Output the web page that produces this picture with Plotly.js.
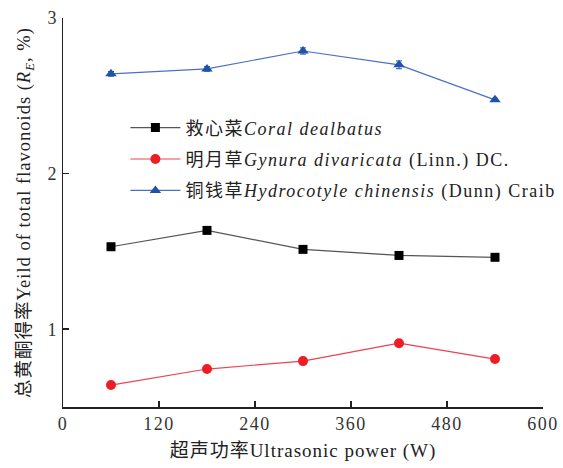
<!DOCTYPE html>
<html>
<head>
<meta charset="utf-8">
<script src="https://cdn.plot.ly/plotly-3.0.1.min.js"></script>
<style>
html,body{margin:0;padding:0;background:#fff;}
#chart{width:563px;height:468px;}
.legendtext{letter-spacing:1.5px;}
.xtick text,.ytick text{letter-spacing:1.5px;}
.g-xtitle text,.g-ytitle text{letter-spacing:1px;}
</style>
</head>
<body>
<div id="chart"></div>
<script>
const power = [60, 180, 300, 420, 540];
const jiuxincai = [1.53, 1.635, 1.513, 1.474, 1.462];
const mingyuecao = [0.641, 0.744, 0.795, 0.910, 0.808];
const tongqiancao = [2.641, 2.673, 2.788, 2.699, 2.474];
const errJ = [0.01, 0.01, 0.01, 0.01, 0.01];
const errM = [0.01, 0.02, 0.01, 0.01, 0.01];
const errT = [0.015, 0.015, 0.02, 0.025, 0.01];
const names = [
  '救心菜<i>Coral dealbatus</i>',
  '明月草<i>Gynura divaricata</i> (Linn.) DC.',
  '铜钱草<i>Hydrocotyle chinensis</i> (Dunn) Craib'
];
const xTicks = [0, 120, 240, 360, 480, 600];
const yTicks = [1, 2, 3];

const font = '"Liberation Serif", "Noto Sans CJK SC", serif';

const traces = [
  {x: power, y: jiuxincai, name: names[0], legendgroup: 'a', mode: 'lines+markers',
   line: {color: '#555555', width: 1.2}, marker: {symbol: 'square', size: 9, color: '#000000'},
   error_y: {type: 'data', array: errJ, color: '#333', thickness: 1, width: 3}},
  {x: power, y: mingyuecao, name: names[1], legendgroup: 'b', mode: 'lines+markers',
   line: {color: '#f04050', width: 1.2}, marker: {symbol: 'circle', size: 10, color: '#ee1c25'},
   error_y: {type: 'data', array: errM, color: '#ee1c25', thickness: 1, width: 3}},
  {x: power, y: tongqiancao, name: names[2], legendgroup: 'c', mode: 'lines+markers',
   line: {color: '#4a6fc7', width: 1.2}, marker: {symbol: 'triangle-up', size: 10, color: '#1f52a8'},
   error_y: {type: 'data', array: errT, color: '#1f52a8', thickness: 1, width: 3}}
];

const layout = {
  width: 563, height: 468,
  margin: {l: 63, r: 20, t: 18, b: 61, autoexpand: false},
  paper_bgcolor: '#fff', plot_bgcolor: '#fff',
  font: {family: font, size: 15, color: '#222'},
  showlegend: true,
  legend: {x: 0.13, y: 0.765, xanchor: 'left', yanchor: 'top', bgcolor: 'rgba(0,0,0,0)',
           traceorder: 'grouped', tracegroupgap: 5,
           font: {family: font, size: 18, color: '#222'}, itemwidth: 50},
  xaxis: {range: [0, 600], tickvals: xTicks, ticktext: xTicks.map(String),
          showgrid: false, zeroline: false, showline: true, linecolor: '#222', linewidth: 1.5,
          ticks: 'inside', ticklen: 6, tickcolor: '#222', tickwidth: 1.5,
          tickfont: {family: font, size: 18, color: '#333'},
          title: {text: '超声功率Ultrasonic power (W)', font: {family: font, size: 19, color: '#222'}, standoff: 10}},
  yaxis: {range: [0.5, 3], tickvals: yTicks, ticktext: yTicks.map(String),
          showgrid: false, zeroline: false, showline: true, linecolor: '#222', linewidth: 1.5,
          ticks: 'inside', ticklen: 6, tickcolor: '#222', tickwidth: 1.5,
          tickfont: {family: font, size: 18, color: '#333'},
          title: {text: '总黄酮得率Yeild of total flavonoids (<i>R</i><sub><i>E</i></sub>, %)', font: {family: font, size: 18.5, color: '#222'}, standoff: 12}}
};

Plotly.newPlot('chart', traces, layout, {displayModeBar: false, staticPlot: true});
</script>
</body>
</html>
